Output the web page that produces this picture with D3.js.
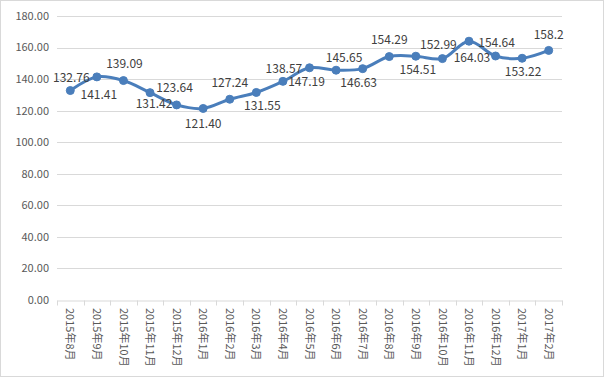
<!DOCTYPE html>
<html><head><meta charset="utf-8">
<script src="https://cdn.jsdelivr.net/npm/d3@7"></script>
<style>
html,body{margin:0;padding:0;background:#fff;}
svg{display:block;}
</style></head>
<body>
<script>
const categories = ["2015年8月","2015年9月","2015年10月","2015年11月","2015年12月","2016年1月","2016年2月","2016年3月","2016年4月","2016年5月","2016年6月","2016年7月","2016年8月","2016年9月","2016年10月","2016年11月","2016年12月","2017年1月","2017年2月"];
const values = [132.76,141.41,139.09,131.42,123.64,121.40,127.24,131.55,138.57,147.19,145.65,146.63,154.29,154.51,152.99,164.03,154.64,153.22,158.2];
const valueLabels = ["132.76","141.41","139.09","131.42","123.64","121.40","127.24","131.55","138.57","147.19","145.65","146.63","154.29","154.51","152.99","164.03","154.64","153.22","158.2"];
const yTicks = [0,20,40,60,80,100,120,140,160,180];
// label offsets relative to each point (dx, dy) as in the reference
const labelOffsets = [[1,-13],[2,18],[1,-17],[4,11],[-2,-17],[0,15],[0,-16],[6,13],[1,-13],[-3,14],[8,-12],[-4,14],[0,-17],[2,14],[-4,-14],[3,17],[1,-13],[1,14],[0,-16]];

const W = 606, H = 379;
const margin = {left:57, right:44, top:16, bottom:79};
const svg = d3.select("body").append("svg").attr("width",W).attr("height",H);

svg.append("rect").attr("x",0.5).attr("y",0.5).attr("width",W-3).attr("height",H-3)
  .attr("fill","#fff").attr("stroke","#d9d9d9");

const x = d3.scaleBand().domain(categories).range([margin.left, W-margin.right]);
const y = d3.scaleLinear().domain([0,180]).range([H-margin.bottom, margin.top]);

const font = "'Noto Sans CJK SC', 'Microsoft YaHei', sans-serif";

// gridlines
svg.append("g").selectAll("line").data(yTicks.filter(d=>d>0)).join("line")
  .attr("x1", margin.left).attr("x2", W-margin.right)
  .attr("y1", d=>Math.round(y(d))+0.5).attr("y2", d=>Math.round(y(d))+0.5)
  .attr("stroke","#d9d9d9").attr("stroke-width",1);

// y labels
svg.append("g").selectAll("text").data(yTicks).join("text")
  .attr("x", margin.left-8).attr("y", d=>y(d))
  .attr("dy","0.35em").attr("text-anchor","end")
  .attr("font-family", font).attr("font-size","11px").attr("fill","#595959")
  .text(d=>d.toFixed(2));

// x axis
const xAxis = d3.axisBottom(x).tickSize(0).tickFormat("");
const gx = svg.append("g").attr("transform",`translate(0,${Math.round(y(0))+0.5})`).call(xAxis);
gx.select(".domain").attr("stroke","#d9d9d9");
const bounds = categories.map((c)=>x(c)).concat([x(categories[categories.length-1])+x.bandwidth()]);
gx.selectAll("line.tk").data(bounds).join("line").attr("class","tk")
  .attr("x1",d=>Math.round(d)+0.5).attr("x2",d=>Math.round(d)+0.5)
  .attr("y1",0).attr("y2",5).attr("stroke","#d9d9d9");

svg.append("g").selectAll("text").data(categories).join("text")
  .attr("transform", d=>`translate(${x(d)+x.bandwidth()/2},${y(0)+8}) rotate(90)`)
  .attr("dy","0.35em").attr("text-anchor","start")
  .attr("font-family", font).attr("font-size","11px").attr("fill","#595959")
  .text(d=>d);

// line
const cx = (d,i)=>x(categories[i])+x.bandwidth()/2;
const line = d3.line().x(cx).y(d=>y(d)).curve(d3.curveCatmullRom.alpha(0.5));
svg.append("path").datum(values).attr("d", line)
  .attr("fill","none").attr("stroke","#4a7ebb").attr("stroke-width",3)
  .attr("stroke-linejoin","round").attr("stroke-linecap","round");

svg.append("g").selectAll("circle").data(values).join("circle")
  .attr("cx", cx).attr("cy", d=>y(d)).attr("r",4)
  .attr("fill","#4a7ebb").attr("stroke","#4a7ebb").attr("stroke-width",1);

// data labels
svg.append("g").selectAll("text").data(values).join("text")
  .attr("x",(d,i)=>cx(d,i)+labelOffsets[i][0]).attr("y",(d,i)=>y(d)+labelOffsets[i][1])
  .attr("dy","0.35em").attr("text-anchor","middle")
  .attr("font-family", font).attr("font-size","12px").attr("fill","#404040")
  .text((d,i)=>valueLabels[i]);
</script>
</body></html>
